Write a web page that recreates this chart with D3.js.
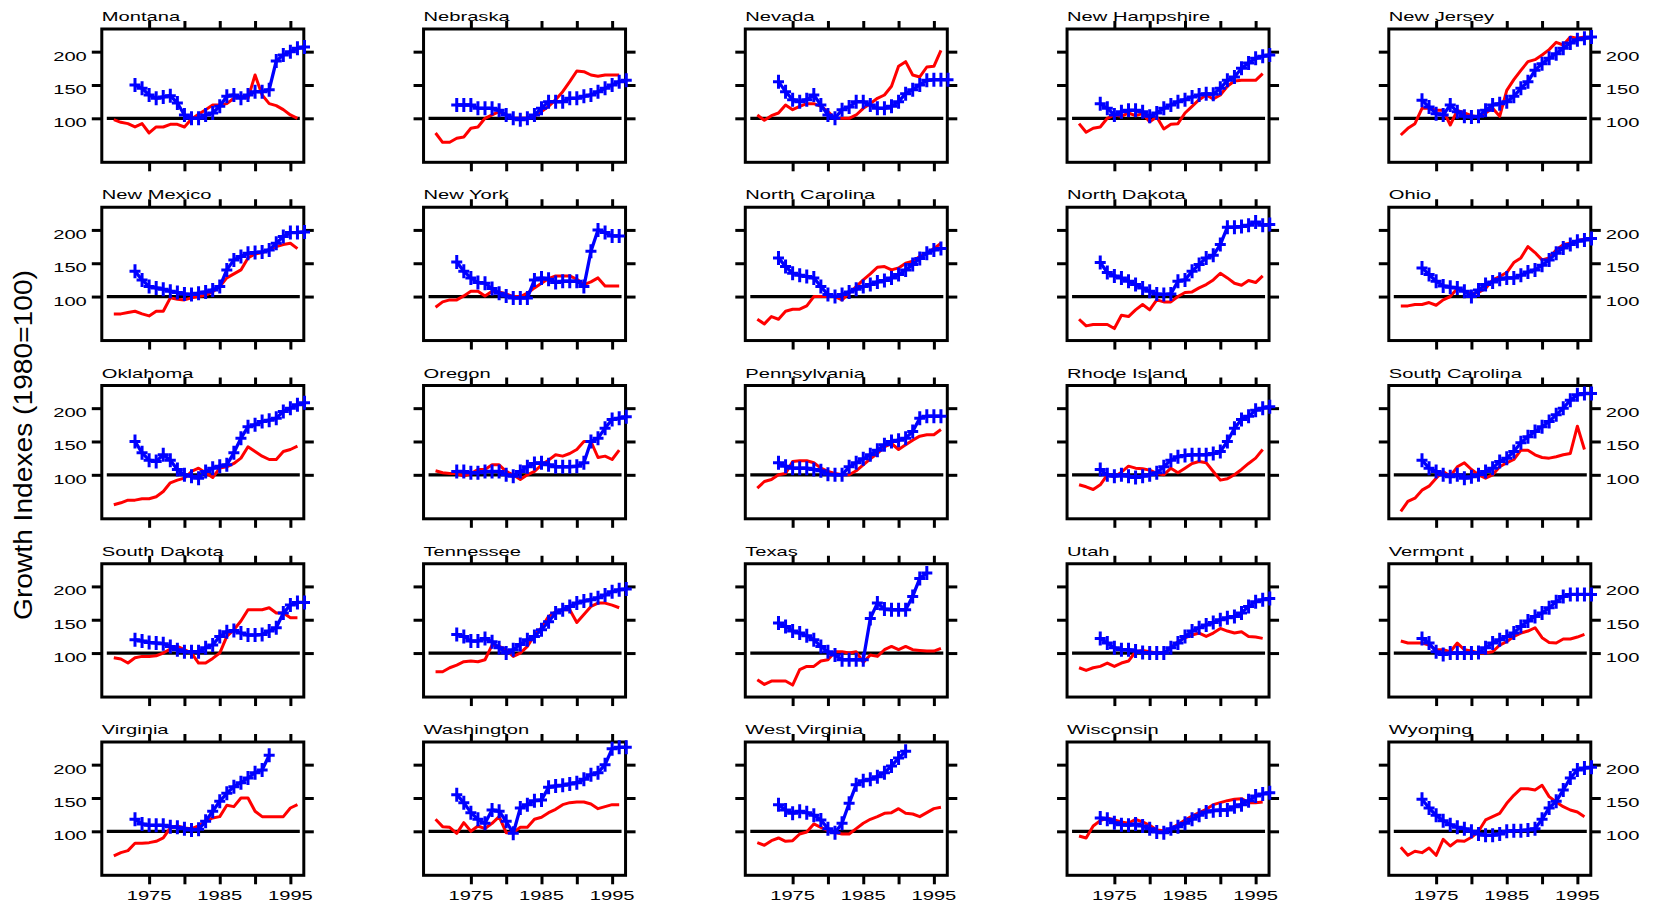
<!DOCTYPE html>
<html><head><meta charset="utf-8">
<script src="https://cdn.jsdelivr.net/npm/d3@7"></script>
<style>body{margin:0;background:#fff}</style>
</head><body><svg id="c" width="1664" height="905"></svg>
<script>
// ---------- data ----------
const states = ["Montana","Nebraska","Nevada","New Hampshire","New Jersey",
  "New Mexico","New York","North Carolina","North Dakota","Ohio",
  "Oklahoma","Oregon","Pennsylvania","Rhode Island","South Carolina",
  "South Dakota","Tennessee","Texas","Utah","Vermont",
  "Virginia","Washington","West Virginia","Wisconsin","Wyoming"];
const years = [1970,1971,1972,1973,1974,1975,1976,1977,1978,1979,1980,1981,1982,1983,
  1984,1985,1986,1987,1988,1989,1990,1991,1992,1993,1994,1995,1996,1997];
const redFirstYear = 1970;
const blueFirstYear = 1973;
const xTicks = [1975,1980,1985,1990,1995];
const xTickLabels = [1975,1985,1995];
const yTicks = [100,150,200];
const yTickLabels = [100,150,200];
const baseValue = 100;
const yAxisTitle = "Growth Indexes (1980=100)";

const redMontana = [98,94,92,87,92,78,87,87,91,91,87,99,106,113,120,120,122,130,133,130,165,135,122,119,113,105,100];
const blueMontana = [150,145,135,130,132,134,123,105,100,100,105,108,118,133,135,130,135,140,140,143,186,195,200,205,207];
const redNebraska = [78,64,64,70,72,85,87,100,105,110,105,100,100,100,103,110,118,128,140,155,171,170,165,163,165,165,165];
const blueNebraska = [120,120,120,115,115,115,112,105,100,98,100,105,115,125,125,125,130,130,133,135,140,145,150,155,157];
const redNevada = [105,97,104,108,120,113,118,122,122,118,110,100,100,100,105,115,122,130,135,148,178,185,165,162,177,178,202];
const blueNevada = [155,140,128,125,128,135,120,105,100,113,117,125,125,120,115,115,118,125,137,143,150,157,158,158,158];
const redNewHampshire = [92,79,85,87,100,105,103,108,104,107,95,102,84,91,92,108,118,128,135,129,135,148,156,157,157,157,167];
const blueNewHampshire = [122,115,105,110,112,112,110,103,108,115,120,125,128,132,135,137,136,145,157,162,175,183,190,193,195];
const redNewJersey = [75,85,92,115,115,112,112,90,112,108,104,102,108,115,103,142,158,172,185,188,195,203,214,210,222,220,222];
const blueNewJersey = [127,117,107,105,120,110,103,102,103,112,120,122,125,133,145,155,172,182,190,197,205,213,218,220,222];
const redNewMexico = [74,74,76,78,74,71,78,78,98,96,95,98,100,102,107,115,128,134,140,158,164,166,170,175,178,180,172];
const blueNewMexico = [138,125,115,113,111,108,106,104,103,105,107,110,115,140,155,160,165,166,167,170,180,190,196,196,197];
const redNewYork = [84,92,95,95,101,108,108,101,108,107,104,100,100,105,113,120,127,131,131,131,126,118,122,128,116,116,116];
const blueNewYork = [152,138,128,121,120,112,105,101,98,98,98,125,128,126,121,123,123,123,115,168,200,196,191,191];
const redNorthCarolina = [66,59,70,66,78,81,81,86,100,100,100,100,95,105,115,125,134,144,145,140,143,150,153,160,165,172,180];
const blueNorthCarolina = [158,145,135,132,130,128,115,103,100,103,107,111,115,118,122,124,128,133,140,148,157,165,170,172];
const redNorthDakota = [66,56,58,58,58,52,72,70,80,88,80,95,92,92,100,106,107,113,118,125,135,128,120,117,124,121,131];
const blueNorthDakota = [151,136,131,128,123,118,113,108,104,103,104,123,125,138,148,158,162,178,204,204,205,207,212,207,208];
const redOhio = [86,86,88,88,91,87,95,100,112,108,104,106,112,125,130,136,151,158,175,166,155,158,170,178,180,184,186];
const blueOhio = [143,133,123,116,114,113,108,100,110,118,122,126,128,128,132,137,140,147,155,165,173,178,183,185,187];
const redOklahoma = [55,58,62,62,64,64,67,75,88,92,95,105,110,103,96,110,112,117,125,142,135,128,123,123,135,138,143];
const blueOklahoma = [150,133,122,120,130,122,108,100,98,95,105,110,113,115,133,155,172,175,180,182,185,195,200,205,208];
const redOregon = [106,103,102,102,98,102,108,108,115,115,105,100,93,100,105,115,122,130,128,132,138,150,150,126,128,123,137];
const blueOregon = [105,105,103,103,105,105,105,100,98,105,112,117,118,115,112,112,112,113,118,150,155,170,183,185,187];
const redPennsylvania = [80,90,93,100,102,120,121,121,118,110,105,102,100,100,106,115,124,132,142,147,138,145,152,158,160,160,168];
const bluePennsylvania = [118,113,110,110,110,108,106,101,100,100,112,118,124,130,137,145,150,152,155,165,185,188,188,188];
const redRhodeIsland = [85,82,78,85,100,97,104,113,110,109,107,102,100,110,103,110,117,120,118,105,92,94,100,108,117,125,138];
const blueRhodeIsland = [108,100,98,100,98,96,98,100,103,112,122,127,129,130,130,130,132,135,150,170,183,188,197,200,202];
const redSouthCarolina = [45,60,65,77,83,95,105,98,112,118,108,100,95,100,112,118,123,137,137,130,126,125,127,130,132,173,138];
const blueSouthCarolina = [122,110,105,100,97,100,95,97,100,105,110,120,125,135,148,157,165,172,180,190,200,212,220,222,222];
const redSouthDakota = [93,91,85,93,95,95,96,100,106,110,105,100,85,85,92,100,125,135,148,165,165,165,168,160,160,153,153];
const blueSouthDakota = [120,118,116,115,114,110,105,102,102,102,108,112,125,132,134,130,127,127,128,133,138,160,172,176,176];
const redTennessee = [72,72,78,82,87,88,87,90,112,110,105,95,100,110,127,138,155,162,165,165,146,158,170,175,175,172,168];
const blueTennessee = [128,125,118,118,122,117,108,100,105,113,120,125,135,147,160,165,170,175,178,180,183,187,192,195,196];
const redTexas = [60,53,58,58,58,52,75,80,80,88,90,102,102,100,102,86,97,95,105,110,105,110,105,104,103,103,107];
const blueTexas = [145,140,133,130,126,120,110,102,97,90,90,90,90,152,175,166,165,165,165,185,212,220];
const redUtah = [78,74,78,80,85,80,85,88,102,104,102,100,100,108,117,123,127,130,125,130,137,133,130,132,125,124,122];
const blueUtah = [122,115,108,105,105,103,101,100,100,100,108,115,125,133,138,142,146,150,153,155,160,170,177,180,182];
const redVermont = [118,115,115,115,112,105,105,102,115,105,103,100,100,102,112,117,125,130,133,138,123,116,115,121,121,124,128];
const blueVermont = [122,115,102,98,100,100,100,100,101,108,115,120,125,130,140,148,155,160,168,177,185,188,188,188,188];
const redVirginia = [63,68,71,82,82,83,85,90,105,108,105,104,108,115,120,122,139,137,150,150,130,122,122,122,122,135,140];
const blueVirginia = [118,111,109,109,109,107,106,104,102,103,115,130,145,157,167,173,180,188,192,214];
const redWashington = [118,107,106,97,113,100,108,104,112,122,98,98,106,106,118,121,128,133,140,143,144,144,141,134,137,140,140];
const blueWashington = [155,143,128,118,112,132,130,115,97,135,140,146,147,166,168,169,171,173,178,185,188,200,224,226,226];
const redWestVirginia = [83,79,86,90,85,86,96,99,111,106,101,98,96,96,104,112,118,122,127,128,134,127,126,122,128,134,136];
const blueWestVirginia = [140,132,127,130,128,124,117,104,98,112,142,170,176,178,182,188,198,210,220];
const redWisconsin = [93,90,108,116,120,117,114,112,118,114,109,102,101,104,110,117,123,128,133,140,143,146,148,149,143,143,144];
const blueWisconsin = [120,118,113,110,109,111,108,104,99,98,104,107,112,118,124,129,131,132,132,137,140,146,153,156,158];
const redWyoming = [76,64,70,68,75,64,88,78,86,85,91,100,117,122,127,142,154,164,164,162,169,152,144,137,132,129,122];
const blueWyoming = [148,135,124,116,110,106,104,100,96,94,94,96,100,101,101,102,104,118,135,145,162,180,192,195,196];

const redSeries = [redMontana,redNebraska,redNevada,redNewHampshire,redNewJersey,
  redNewMexico,redNewYork,redNorthCarolina,redNorthDakota,redOhio,
  redOklahoma,redOregon,redPennsylvania,redRhodeIsland,redSouthCarolina,
  redSouthDakota,redTennessee,redTexas,redUtah,redVermont,
  redVirginia,redWashington,redWestVirginia,redWisconsin,redWyoming];
const blueSeries = [blueMontana,blueNebraska,blueNevada,blueNewHampshire,blueNewJersey,
  blueNewMexico,blueNewYork,blueNorthCarolina,blueNorthDakota,blueOhio,
  blueOklahoma,blueOregon,bluePennsylvania,blueRhodeIsland,blueSouthCarolina,
  blueSouthDakota,blueTennessee,blueTexas,blueUtah,blueVermont,
  blueVirginia,blueWashington,blueWestVirginia,blueWisconsin,blueWyoming];

// ---------- layout ----------
const PW = 202, PH = 133.3;
const X0 = 101.8, DX = 321.75, Y0 = 29, DY = 178.25;
const FONT = "'Liberation Sans', Arial, Helvetica, sans-serif";
const FS = 13, STRETCH = 1.55;

const x = d3.scaleLinear().domain([1968.3, 1996.9]).range([0, PW]);
const y = d3.scaleLinear().domain([34, 234]).range([PH, 0]);

const toPoints = (vals, first) => vals.map((v, i) => ({year: years[years.indexOf(first) + i], value: v}));
const panels = states.map((s, i) => ({
  name: s,
  red: toPoints(redSeries[i], redFirstYear),
  blue: toPoints(blueSeries[i], blueFirstYear)
}));

const svg = d3.select("#c");
const line = d3.line().x(d => x(d.year)).y(d => y(d.value));

function styleAxis(sel) {
  sel.select(".domain").remove();
  sel.selectAll(".tick line").attr("stroke", "#000").attr("stroke-width", 3);
  sel.selectAll(".tick text").remove();
}

panels.forEach((p, i) => {
  const col = i % 5, row = Math.floor(i / 5);
  const g = svg.append("g").attr("transform", `translate(${X0 + col * DX},${Y0 + row * DY})`);

  g.append("g").call(d3.axisTop(x).tickValues(xTicks).tickSize(8)).call(styleAxis);
  g.append("g").attr("transform", `translate(0,${PH})`)
    .call(d3.axisBottom(x).tickValues(xTicks).tickSize(9)).call(styleAxis);
  g.append("g").call(d3.axisLeft(y).tickValues(yTicks).tickSize(10)).call(styleAxis);
  g.append("g").attr("transform", `translate(${PW},0)`)
    .call(d3.axisRight(y).tickValues(yTicks).tickSize(10)).call(styleAxis);

  g.append("rect").attr("x", 0).attr("y", 0).attr("width", PW).attr("height", PH)
    .attr("fill", "none").attr("stroke", "#000").attr("stroke-width", 3);

  g.append("line").attr("x1", 5).attr("x2", PW - 4)
    .attr("y1", y(baseValue)).attr("y2", y(baseValue))
    .attr("stroke", "#000").attr("stroke-width", 3.3);

  g.append("path").datum(p.red).attr("d", line)
    .attr("fill", "none").attr("stroke", "#ff0000").attr("stroke-width", 3)
    .attr("stroke-linejoin", "round");

  g.append("path").datum(p.blue).attr("d", line)
    .attr("fill", "none").attr("stroke", "#0000ff").attr("stroke-width", 3.3)
    .attr("stroke-linejoin", "round");

  g.selectAll("path.mk").data(p.blue).join("path").attr("class", "mk")
    .attr("d", d => {
      const cx = x(d.year), cy = y(d.value);
      return `M${cx - 5.5},${cy}H${cx + 5.5}M${cx},${cy - 7}V${cy + 7}`;
    })
    .attr("stroke", "#0000ff").attr("stroke-width", 3).attr("fill", "none");

  g.append("text").attr("transform", `translate(0,-8) scale(${STRETCH},1)`)
    .attr("font-family", FONT).attr("font-size", FS).attr("fill", "#000")
    .text(p.name);

  if (col === 0) {
    g.selectAll("text.yl").data(yTickLabels).join("text").attr("class", "yl")
      .attr("transform", d => `translate(-15,${y(d) + 9}) scale(${STRETCH},1)`)
      .attr("text-anchor", "end").attr("font-family", FONT).attr("font-size", FS)
      .text(d => d);
  }
  if (col === 4) {
    g.selectAll("text.yr").data(yTickLabels).join("text").attr("class", "yr")
      .attr("transform", d => `translate(${PW + 15},${y(d) + 9}) scale(${STRETCH},1)`)
      .attr("text-anchor", "start").attr("font-family", FONT).attr("font-size", FS)
      .text(d => d);
  }
  if (row === 4) {
    g.selectAll("text.xl").data(xTickLabels).join("text").attr("class", "xl")
      .attr("transform", d => `translate(${x(d)},${PH + 25}) scale(${STRETCH},1)`)
      .attr("text-anchor", "middle").attr("font-family", FONT).attr("font-size", FS)
      .text(d => d);
  }
});

svg.append("text")
  .attr("transform", "translate(32,445) rotate(-90)")
  .attr("text-anchor", "middle").attr("font-family", FONT).attr("font-size", 25)
  .attr("textLength", 350).attr("lengthAdjust", "spacingAndGlyphs")
  .text(yAxisTitle);
</script>
</body></html>
